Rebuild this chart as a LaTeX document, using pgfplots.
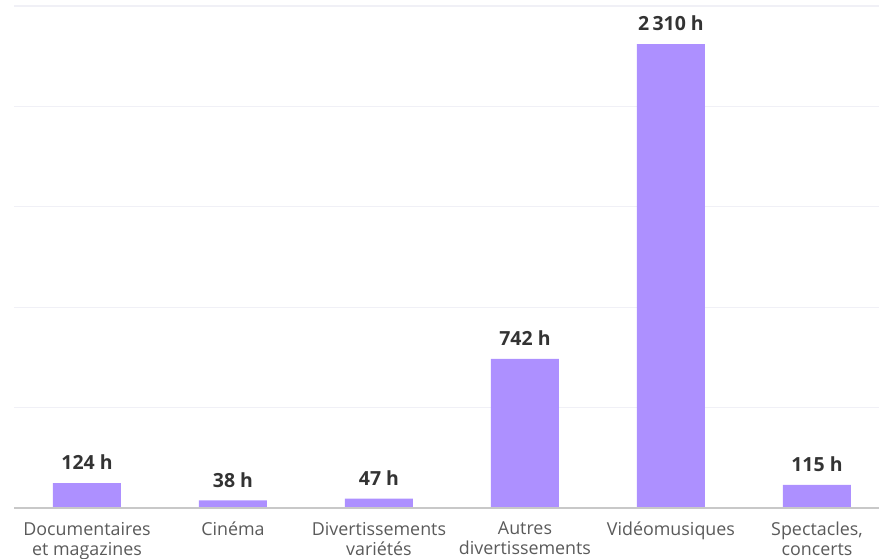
\documentclass[border=0pt]{standalone}
\usepackage{fontspec}
\setmainfont{Open Sans}
\usepackage{pgfplots}
\pgfplotsset{compat=1.18}
\definecolor{barviolet}{RGB}{173,144,255}
\definecolor{gridc}{RGB}{240,240,246}
\definecolor{basec}{RGB}{200,200,200}
\definecolor{labc}{RGB}{51,51,51}
\definecolor{tickc}{RGB}{90,90,90}
\begin{document}
\begin{tikzpicture}
\begin{axis}[
    at={(0pt,0pt)}, anchor=south west,
    scale only axis,
    width=648.75pt, height=376.5pt,
    xmin=-0.5, xmax=5.425,
    ymin=0, ymax=2500,
    axis line style={draw=none},
    ytick={500,1000,1500,2000,2500},
    yticklabels={},
    major tick length=0pt,
    ymajorgrids,
    grid style={gridc, line width=0.9pt},
    xtick=data,
    xticklabels={{Documentaires\\et magazines},{Cinéma},{Divertissements\\variétés},{Autres\\divertissements},{Vidéomusiques},{Spectacles,\\concerts}},
    xticklabel style={align=center, font=\fontsize{13.4}{15}\selectfont, text=tickc, yshift=-7pt},
    ybar, bar width=51pt,
    clip=false,
    point meta=explicit symbolic,
    nodes near coords,
    every node near coord/.append style={anchor=base, yshift=10pt, font=\fontsize{14.6}{16}\selectfont\bfseries, text=labc},
]
\addplot[fill=barviolet, draw=none] coordinates {
    (0,124) [124 h]
    (1,38) [38 h]
    (2,47) [47 h]
    (3,742) [742 h]
    (4,2310) [2\,310 h]
    (5,115) [115 h]
};
\draw[basec, line width=1pt] (rel axis cs:0,0) -- (rel axis cs:1,0);
\end{axis}
\pgfresetboundingbox
\path[use as bounding box] (-10.5pt,-38.25pt) rectangle (648.75pt,381pt);
\end{tikzpicture}
\end{document}
